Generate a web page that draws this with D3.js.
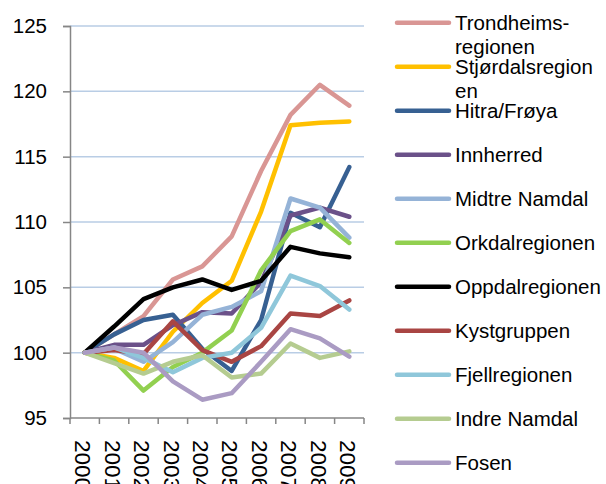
<!DOCTYPE html>
<html lang="no">
<head>
  <meta charset="UTF-8">
  <title>Befolkningsutvikling regioner 2000-2009</title>
  <script src="https://d3js.org/d3.v7.min.js"></script>
  <style>
    body { margin: 0; background: #fff; }
    svg text { font-family: "Liberation Sans", Arial, sans-serif; font-size: 20.5px; fill: #000; }
  </style>
</head>
<body>
  <div id="chart"></div>
  <script>
    const width = 606;
    const height = 484;

    // Data (index, 2000 = 100)
    const years = ["2000", "2001", "2002", "2003", "2004", "2005", "2006", "2007", "2008", "2009"];
    const yTicks = [95, 100, 105, 110, 115, 120, 125];

    const regions = [
      "Trondheims-\nregionen", "Stjørdalsregion\nen", "Hitra/Frøya", "Innherred",
      "Midtre Namdal", "Orkdalregionen", "Oppdalregionen", "Kystgruppen",
      "Fjellregionen", "Indre Namdal", "Fosen"
    ];
    const colors = [
      "#d99694", "#ffc000", "#376092", "#6b5189", "#95b3d7", "#92d050",
      "#000000", "#a94543", "#8fc7da", "#b5cc90", "#aa9bc3"
    ];

    const trondheim = [100, 101.4, 102.8, 105.6, 106.6, 108.9, 113.9, 118.2, 120.5, 118.9];
    const stjordal  = [100, 99.6, 98.6, 101.6, 103.8, 105.5, 110.8, 117.4, 117.6, 117.7];
    const hitra     = [100, 101.4, 102.5, 102.9, 100.3, 98.6, 102.5, 110.7, 109.6, 114.2];
    const innherred = [100, 100.6, 100.6, 102.1, 103.1, 103.0, 105.4, 110.5, 111.1, 110.4];
    const midtre    = [100, 100.3, 99.3, 100.8, 102.9, 103.5, 104.7, 111.8, 111.1, 108.8];
    const orkdal    = [100, 99.4, 97.1, 98.9, 100.0, 101.7, 106.3, 109.3, 110.2, 108.4];
    const oppdal    = [100, 102.0, 104.1, 105.0, 105.6, 104.8, 105.5, 108.1, 107.6, 107.3];
    const kyst      = [100, 100.2, 99.9, 102.4, 100.2, 99.3, 100.5, 103.0, 102.8, 104.0];
    const fjell     = [100, 100.4, 99.6, 98.5, 99.6, 100.0, 101.9, 105.9, 105.1, 103.3];
    const indre     = [100, 99.2, 98.4, 99.3, 99.8, 98.1, 98.4, 100.7, 99.6, 100.1];
    const fosen     = [100, 100.4, 100.0, 97.8, 96.4, 96.9, 99.3, 101.8, 101.1, 99.7];

    const values = [trondheim, stjordal, hitra, innherred, midtre, orkdal,
                    oppdal, kyst, fjell, indre, fosen];

    const svg = d3.select("#chart")
      .append("svg")
      .attr("width", width)
      .attr("height", height);

    const plot = { left: 70, right: 364, top: 26, bottom: 418 };

    const x = d3.scaleBand()
      .domain(years)
      .range([plot.left, plot.right]);

    const y = d3.scaleLinear()
      .domain([95, 125])
      .range([plot.bottom, plot.top]);

    // gridlines
    svg.append("g")
      .selectAll("line")
      .data(yTicks.filter(d => d > 95))
      .enter()
      .append("line")
      .attr("x1", plot.left)
      .attr("x2", plot.right)
      .attr("y1", d => y(d))
      .attr("y2", d => y(d))
      .attr("stroke", "#b9cde5")
      .attr("stroke-width", 1.5);

    // y axis
    const yAxis = svg.append("g")
      .attr("transform", `translate(${plot.left},0)`)
      .call(d3.axisLeft(y).tickValues(yTicks).tickSize(7).tickPadding(16));
    yAxis.select(".domain").attr("stroke", "#868686").attr("stroke-width", 1.5);
    yAxis.selectAll(".tick line").attr("stroke", "#868686").attr("stroke-width", 1.5);
    yAxis.selectAll(".tick text")
      .style("font-size", "20.5px")
      .style("font-family", "'Liberation Sans', Arial, sans-serif")
      .attr("fill", "#000");

    // x axis: ticks on the category boundaries
    const xg = svg.append("g");
    xg.append("line")
      .attr("x1", plot.left).attr("x2", plot.right)
      .attr("y1", plot.bottom).attr("y2", plot.bottom)
      .attr("stroke", "#868686").attr("stroke-width", 1.5);
    xg.selectAll(".tk")
      .data(years.concat(["end"]))
      .enter()
      .append("line")
      .attr("class", "tk")
      .attr("x1", d => d === "end" ? plot.right : x(d))
      .attr("x2", d => d === "end" ? plot.right : x(d))
      .attr("y1", plot.bottom)
      .attr("y2", plot.bottom + 6)
      .attr("stroke", "#868686").attr("stroke-width", 1.5);
    xg.selectAll("text")
      .data(years)
      .enter()
      .append("text")
      .attr("transform", d => `translate(${x(d) + x.bandwidth() / 2 - 1.5},${plot.bottom + 22}) rotate(90)`)
      .attr("dy", "0.35em")
      .style("font-size", "22.5px")
      .text(d => d);

    // lines
    const line = d3.line()
      .x((d, i) => x(years[i]) + x.bandwidth() / 2)
      .y(d => y(d));

    svg.append("g")
      .selectAll("path")
      .data(values)
      .enter()
      .append("path")
      .attr("d", line)
      .attr("fill", "none")
      .attr("stroke", (d, i) => colors[i])
      .attr("stroke-width", 4.5)
      .attr("stroke-linejoin", "round")
      .attr("stroke-linecap", "round");

    // legend
    const legend = svg.append("g")
      .selectAll("g")
      .data(regions)
      .enter()
      .append("g")
      .attr("transform", (d, i) => `translate(0,${22.7 + i * 44})`);

    legend.append("line")
      .attr("x1", 397).attr("x2", 449)
      .attr("y1", 0).attr("y2", 0)
      .attr("stroke", (d, i) => colors[i])
      .attr("stroke-width", 4.5)
      .attr("stroke-linecap", "round");

    legend.append("text")
      .attr("x", 455)
      .attr("y", 7)
      .selectAll("tspan")
      .data(d => d.split("\n"))
      .enter()
      .append("tspan")
      .attr("x", 455)
      .attr("dy", (d, i) => i === 0 ? 0 : 24)
      .text(d => d);
  </script>
</body>
</html>
